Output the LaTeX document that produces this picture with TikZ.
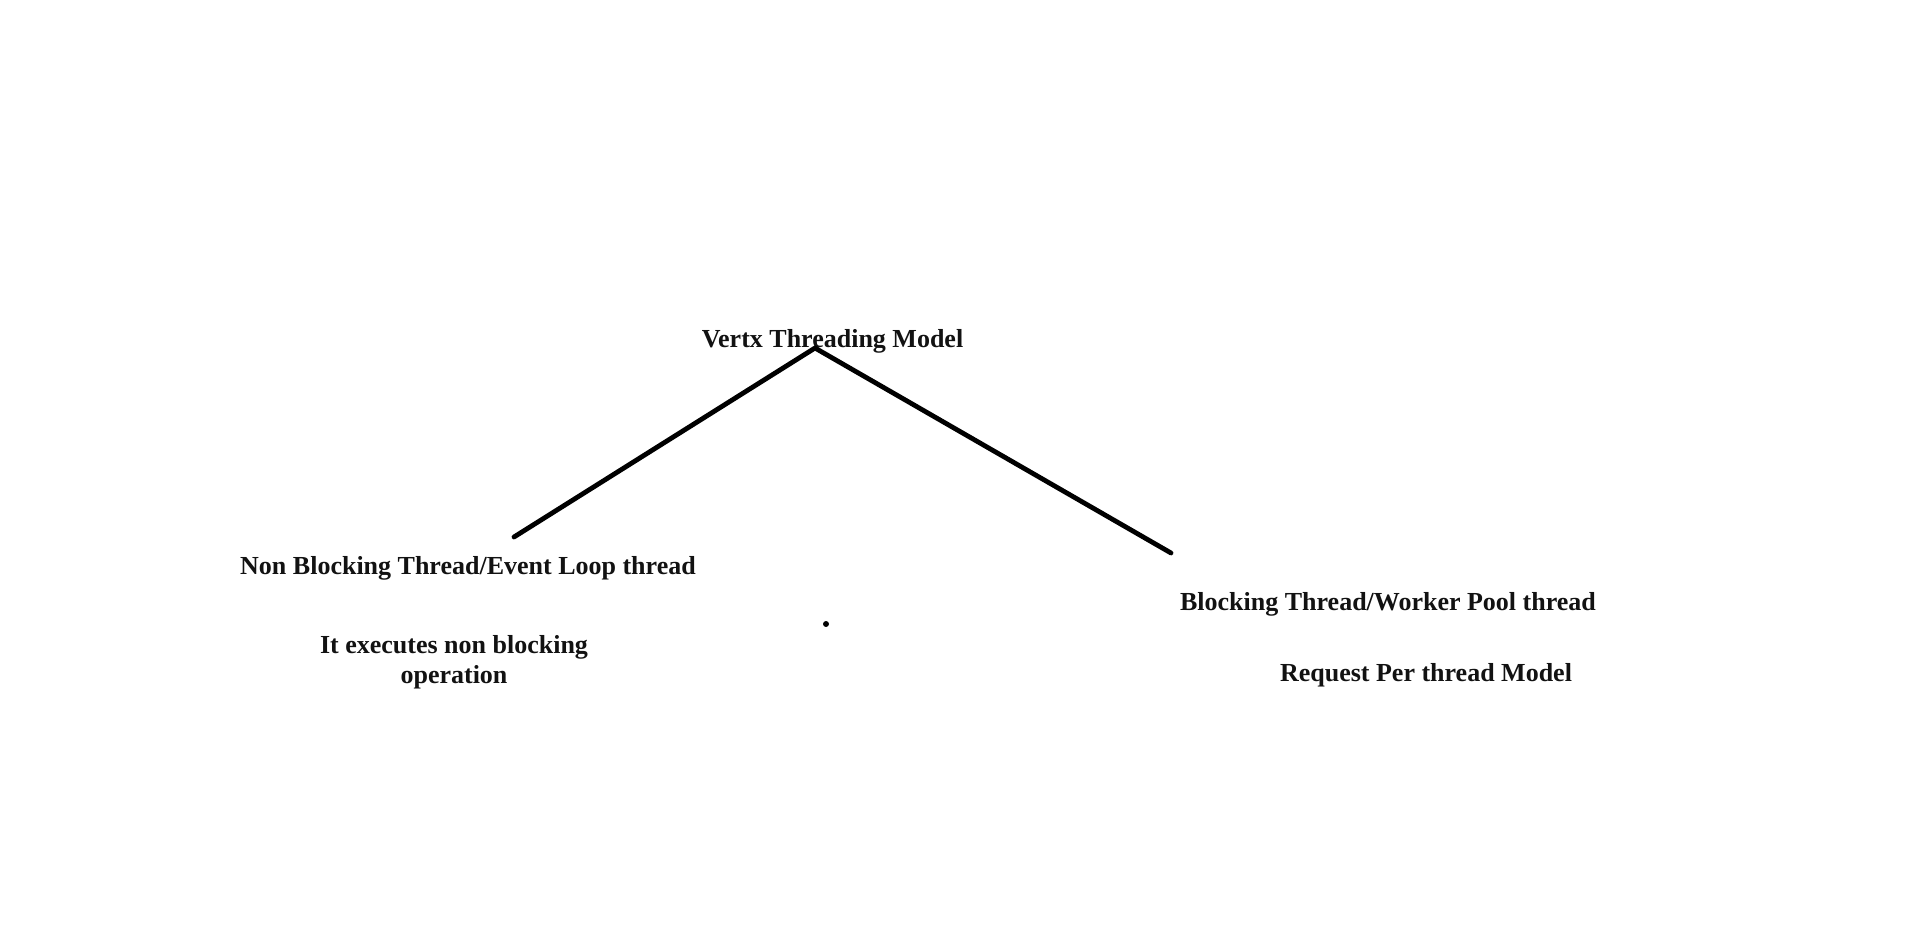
\documentclass[tikz,border=0pt]{standalone}
\usepackage{fontspec}
\setmainfont{Liberation Serif}
\tikzset{
  lbl/.style={font=\fontsize{13}{14.8}\selectfont\bfseries, inner sep=0pt, align=center, text=black!93},
  branch/.style={line width=2.4pt, black, line cap=round}
}
\begin{document}
\begin{tikzpicture}[x=0.5pt,y=-0.5pt]
\useasboundingbox (0,0) rectangle (1917,952);
\node[lbl] (title) at (832.5,341.5) {Vertx Threading Model};
\coordinate (apex) at (815,348);
\coordinate (lend) at (514,537);
\coordinate (rend) at (1171,553);
\draw[branch] (lend) -- (apex) -- (rend);
\node[lbl] (nonblock) at (468,568.5) {Non Blocking Thread/Event Loop thread};
\node[lbl] (nbdesc) at (454,662) {It executes non blocking\\operation};
\node[lbl] (block) at (1388,604) {Blocking Thread/Worker Pool thread};
\node[lbl] (bdesc) at (1426,675) {Request Per thread Model};
\fill[black] (826,624) circle (3);
\end{tikzpicture}
\end{document}
